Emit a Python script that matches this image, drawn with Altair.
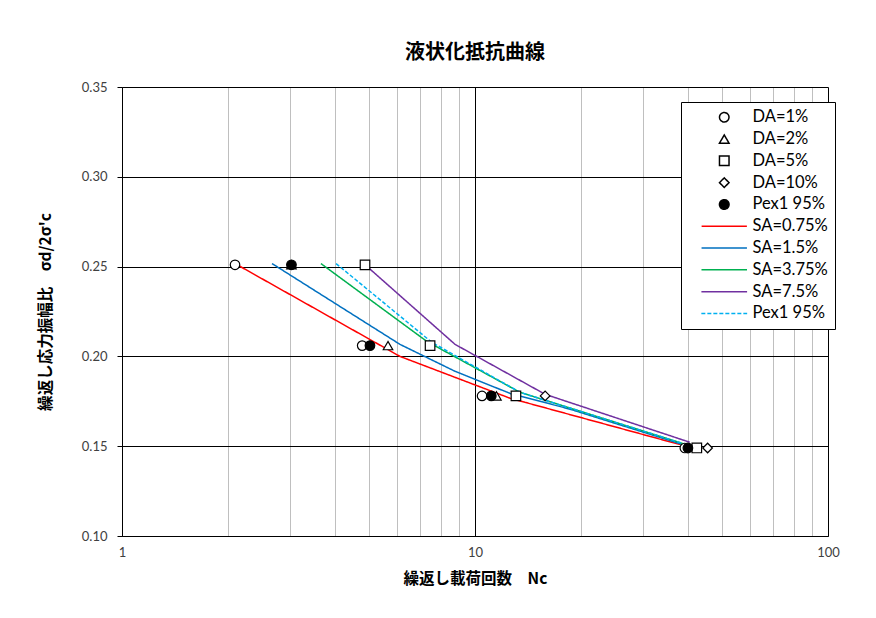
import altair as alt
import pandas as pd

# ---- data ----
series_keys = ["DA=1%", "DA=2%", "DA=5%", "DA=10%", "Pex1 95%",
               "SA=0.75%", "SA=1.5%", "SA=3.75%", "SA=7.5%", "Pex1 95% line"]

da1_n = [2.09, 4.79, 10.47, 39.3]
da1_r = [0.251, 0.206, 0.178, 0.149]
da2_n = [3.02, 5.67, 11.5]
da2_r = [0.251, 0.206, 0.178]
da5_n = [4.88, 7.46, 13.06, 42.5]
da5_r = [0.251, 0.206, 0.178, 0.149]
da10_n = [15.8, 45.6]
da10_r = [0.178, 0.149]
pex_n = [3.02, 5.04, 11.12, 40.1]
pex_r = [0.251, 0.206, 0.178, 0.149]

sa075_n = [2.12, 6.13, 12.57, 39.6]
sa075_r = [0.251, 0.200, 0.1767, 0.150]
sa15_n = [2.66, 6.13, 8.78, 12.57, 18.6, 40.1]
sa15_r = [0.2517, 0.2067, 0.1917, 0.1794, 0.1706, 0.150]
sa375_n = [3.66, 7.31, 13.41, 40.1]
sa375_r = [0.2517, 0.2083, 0.180, 0.1506]
sa75_n = [4.91, 8.78, 15.8, 40.6]
sa75_r = [0.2506, 0.2067, 0.1789, 0.1522]
pexl_n = [4.04, 7.55, 13.41, 40.1]
pexl_r = [0.2517, 0.2078, 0.180, 0.1506]

x_ticks = [1, 2, 3, 4, 5, 6, 7, 8, 9, 10, 20, 30, 40, 50, 60, 70, 80, 90, 100]
y_ticks = [0.10, 0.15, 0.20, 0.25, 0.30, 0.35]

# ---- tables ----
def rows(key, ns, rs):
    return [{"N": n, "r": r, "series": key, "i": i} for i, (n, r) in enumerate(zip(ns, rs))]

pts = pd.DataFrame(rows("DA=1%", da1_n, da1_r) + rows("DA=2%", da2_n, da2_r) +
                   rows("DA=5%", da5_n, da5_r) + rows("DA=10%", da10_n, da10_r) +
                   rows("Pex1 95%", pex_n, pex_r))
lns = pd.DataFrame(rows("SA=0.75%", sa075_n, sa075_r) + rows("SA=1.5%", sa15_n, sa15_r) +
                   rows("SA=3.75%", sa375_n, sa375_r) + rows("SA=7.5%", sa75_n, sa75_r) +
                   rows("Pex1 95% line", pexl_n, pexl_r))

line_sym = "M-4.7,0L4.7,0"
stroke_range = ["black"] * 5 + ["#FF0000", "#0070C0", "#00B050", "#7030A0", "#00B0F0"]
fill_range = ["white"] * 4 + ["black"] + ["white"] * 5
shape_range = ["circle", "triangle-up", "square", "diamond", "circle"] + [line_sym] * 5
size_range = [90, 95, 120, 75, 90] + [100] * 5
dash_range = [[1, 0]] * 9 + [[4, 2]]

leg = alt.Legend(title=None, orient="none", legendX=559, legendY=15,
                 labelExpr="datum.label === 'Pex1 95% line' ? 'Pex1 95%' : datum.label")

label_font = "Lato"
jp_font = "Noto Sans CJK JP"

x_enc = alt.X("N:Q",
              scale=alt.Scale(type="log", domain=[1, 100], nice=False),
              axis=alt.Axis(values=x_ticks, title="繰返し載荷回数　Nc",
                            labelExpr="(datum.value == 1 || datum.value == 10 || datum.value == 100) ? format(datum.value, 'd') : ''",
                            labelOverlap=False, labelFlush=False, ticks=False,
                            labelPadding=10, titlePadding=12,
                            gridColor={"condition": {"test": "datum.value == 1 || datum.value == 10 || datum.value == 100",
                                                     "value": "#000000"},
                                       "value": "#BFBFBF"}))
y_enc = alt.Y("r:Q",
              scale=alt.Scale(domain=[0.10, 0.35], nice=False, zero=False),
              axis=alt.Axis(values=y_ticks, format=".2f", title="繰返し応力振幅比　σd/2σ'c",
                            labelFlush=False, tickSize=5, tickColor="black",
                            labelPadding=10, titlePadding=28, gridColor="#000000"))

stroke_enc = alt.Stroke("series:N", scale=alt.Scale(domain=series_keys, range=stroke_range), legend=leg)
lines = alt.Chart(lns).mark_line(strokeWidth=1.5).encode(
    x=x_enc, y=y_enc,
    stroke=stroke_enc,
    strokeDash=alt.StrokeDash("series:N", scale=alt.Scale(domain=series_keys, range=dash_range), legend=leg),
    order="i:Q",
)
points = alt.Chart(pts).mark_point(filled=True, opacity=1, strokeWidth=1.2).encode(
    x=x_enc, y=y_enc,
    stroke=stroke_enc,
    fill=alt.Fill("series:N", scale=alt.Scale(domain=series_keys, range=fill_range), legend=leg),
    shape=alt.Shape("series:N", scale=alt.Scale(domain=series_keys, range=shape_range), legend=leg),
    size=alt.Size("series:N", scale=alt.Scale(domain=series_keys, range=size_range), legend=None),
)

chart = alt.layer(lines, points).properties(
    width=706, height=449,
    title=alt.TitleParams("液状化抵抗曲線", font=jp_font, fontSize=20, fontWeight="bold",
                          anchor="middle", offset=18, color="black"),
    autosize=alt.AutoSizeParams(type="none"),
    padding={"left": 114, "top": 79, "right": 40, "bottom": 74},
).configure_view(stroke=None).configure_axis(
    labelFont=label_font, labelFontSize=13, labelColor="#404040",
    titleFont=jp_font, titleFontSize=15.5, titleFontWeight="bold", titleColor="black",
    domainColor="black", gridWidth=1, gridOpacity=1,
).configure_legend(
    labelFont=label_font, labelFontSize=16.5, labelColor="black",
    strokeColor="black", fillColor="white", padding=7, symbolOffset=28,
    rowPadding=4.8, labelOffset=20, symbolStrokeWidth=1.5, symbolSize=100,
)

chart.save("out.html", embed_options={"renderer": "svg", "actions": False})
